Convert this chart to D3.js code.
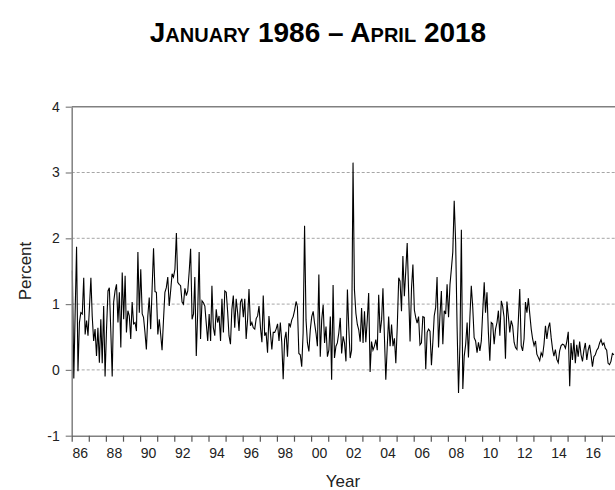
<!DOCTYPE html>
<html>
<head>
<meta charset="utf-8">
<script src="https://cdn.jsdelivr.net/npm/d3@7"></script>
<style>
  body { margin: 0; background: #fff; }
  svg { display: block; font-family: "Liberation Sans", Arial, sans-serif; }
</style>
</head>
<body>
<div id="chart"></div>
<script>
// monthly values in percent, one array per stretch of months
const rate1986 = [1.51, -0.13, 0.85, 1.87, -0.02, 0.72, 0.87, 0.85, 1.40, 0.54, 0.75, 0.52, 0.95, 1.40, 0.82, 0.44, 0.62, 0.21, 0.64, 0.11,
  0.77, 0.10, 0.97, -0.10, 0.62, 1.20, 1.25, 0.60, -0.10, 1.03, 1.20, 1.30, 0.72, 1.18, 0.34, 1.48, 0.77, 1.43, 0.57, 0.90,
  0.82, 0.47, 1.03, 0.70, 0.72, 0.59, 1.79];               // Jan 1986 - Nov 1989
const rate1989 = [0.87, 1.53, 0.85, 0.80, 0.57, 0.31, 0.82, 1.10, 0.62, 1.25, 1.85, 1.19, 1.18, 0.54, 0.77, 0.55, 0.30, 0.75, 1.18, 1.25,
  1.41, 0.97, 1.20, 1.46, 1.41, 1.53, 2.08, 1.33, 1.30, 1.28, 1.03, 1.00, 1.24, 1.13, 1.20, 1.50, 1.84, 0.77, 0.85, 1.41,
  0.21, 0.87, 1.79, 0.47, 1.05, 1.02, 0.97, 0.70, 0.44, 0.85, 0.44, 1.28];   // Dec 1989 - Mar 1994
const rate1994 = [0.64, 0.52, 0.92, 0.72, 0.82, 0.44, 1.08, 0.57, 1.20, 1.18, 0.87, 0.52, 0.39, 0.92, 1.13, 0.64, 1.08, 0.87, 0.59, 1.03,
  1.08, 0.80, 1.08, 0.47, 0.77, 1.23, 0.67, 0.72, 0.64, 0.62, 0.78, 0.82, 0.97, 0.64, 0.42, 1.13, 0.52, 0.57, 0.26, 0.82,
  0.57, 0.31, 0.57, 0.57, 0.62, 0.70, 0.44, 0.72, 0.42, -0.14];             // Apr 1994 - May 1998
const rate1998 = [0.46, 0.58, 0.20, 0.71, 0.66, 0.76, 0.81, 0.91, 1.04, 0.96, 0.25, 0.23, 0.05, 0.56, 2.19, 0.76, 0.41, 0.28, 0.61, 0.81,
  0.89, 0.71, 0.56, 0.36, 1.45, 0.20, 0.76, 0.99, 0.41, 0.66, 0.20, 0.30, 0.81, -0.15, 1.29, 0.18, 0.36, 0.41, 0.56, 0.79,
  0.25, 0.51, 0.41, 0.13, 1.22, 0.66, 0.18, 0.30, 3.15];                    // Jun 1998 - Jun 2002
const rate2002 = [1.22, 0.86, 0.69, 0.61, 0.43, 0.94, 0.41, 0.89, 0.42, 0.76, 1.17, -0.03, 0.43, 0.30, 0.36, 0.46, 0.30, 1.14, 0.56, 0.76,
  1.24, 0.51, -0.15, 0.36, 0.81, 0.36, 0.69, 0.36, 0.48, 0.10, 0.66, 1.40, 1.35, 0.89, 1.73, 1.12, 1.50, 1.93, 1.17, 0.43,
  1.24, 1.60, 0.91, 0.79, 0.71, 0.81, 0.38, 0.41, 0.81];                    // Jul 2002 - Jul 2006
const rate2006 = [0.80, 0.01, 0.57, 0.62, 0.59, 0.07, 0.44, 0.82, 0.95, 1.41, 0.34, 0.82, 1.20, 0.39, 0.90, 0.85, 1.30, 0.80, 1.30, 1.53,
  1.79, 2.57, 1.94, 0.67, -0.35, 0.39, 2.13, -0.29, 0.21, 0.39, 0.72, 0.19, 0.80, 1.28, 0.95, 0.49, 0.44, 0.26, 0.42, 0.29,
  0.44, 0.90, 1.33, 0.87, 1.18, 0.57, 0.14, 0.72, 0.70];                    // Aug 2006 - Aug 2010
const rate2010 = [0.39, 0.62, 0.72, 0.90, 0.52, 1.05, 0.97, 0.80, 0.17, 1.04, 0.82, 0.57, 0.75, 0.67, 0.42, 0.34, 0.31, 0.77, 1.23, 0.37,
  0.29, 0.47, 1.03, 0.87, 1.09, 0.85, 0.62, 0.47, 0.37, 0.44, 0.24, 0.19, 0.14, 0.26, 0.21, 0.39, 0.67, 0.47, 0.64, 0.72,
  0.49, 0.31, 0.21, 0.31, 0.16, 0.11, 0.29, 0.37, 0.39];                    // Sep 2010 - Sep 2014
const rate2014 = [0.38, 0.33, 0.43, 0.58, -0.25, 0.41, 0.15, 0.46, 0.10, 0.38, 0.20, 0.43, 0.23, 0.13, 0.30, 0.41, 0.15, 0.30, 0.38, 0.23,
  0.05, 0.20, 0.23, 0.30, 0.33, 0.41, 0.46, 0.38, 0.41, 0.33, 0.30, 0.10, 0.08, 0.13, 0.25, 0.23];  // Oct 2014 - Sep 2017

const yTicks = [-1, 0, 1, 2, 3, 4];
const gridValues = [0, 1, 2, 3];
const yearLabels = ["86", "88", "90", "92", "94", "96", "98", "00", "02", "04", "06", "08", "10", "12", "14", "16"];

const width = 615, height = 490;
const plotLeft = 71.7, plotTop = 106.7, plotBottom = 435.7;
const pxPerYear = 17.1;

const values = [].concat(rate1986, rate1989, rate1994, rate1998, rate2002, rate2006, rate2010, rate2014);
const data = values.map((v, i) => ({ date: new Date(1986, i, 15), value: v }));

const svg = d3.select("#chart")
  .append("svg")
  .attr("width", width)
  .attr("height", height);

// scales
const x = d3.scaleTime()
  .domain([new Date(1986, 0, 1), new Date(2019, 0, 1)])
  .range([plotLeft, plotLeft + 33 * pxPerYear]);

const y = d3.scaleLinear()
  .domain([-1, 4])
  .range([plotBottom, plotTop]);

// dashed grid lines
svg.append("g")
  .selectAll("line")
  .data(gridValues)
  .join("line")
  .attr("x1", plotLeft)
  .attr("x2", x.range()[1])
  .attr("y1", d => y(d))
  .attr("y2", d => y(d))
  .attr("stroke", "#a6a6a6")
  .attr("stroke-width", 1)
  .attr("stroke-dasharray", "3,2");

// top border
svg.append("line")
  .attr("x1", plotLeft)
  .attr("x2", x.range()[1])
  .attr("y1", y(4))
  .attr("y2", y(4))
  .attr("stroke", "#808080")
  .attr("stroke-width", 1.5);

// the series
const line = d3.line()
  .x(d => x(d.date))
  .y(d => y(d.value));

svg.append("path")
  .datum(data)
  .attr("fill", "none")
  .attr("stroke", "#000")
  .attr("stroke-width", 1.1)
  .attr("d", line);

// y axis (plain hyphen for negatives, like the original)
const yAxis = svg.append("g")
  .attr("transform", `translate(${plotLeft},0)`)
  .call(d3.axisLeft(y).tickValues(yTicks).tickFormat(d => String(d)).tickSize(6).tickSizeOuter(0).tickPadding(6));
yAxis.select(".domain").attr("stroke", "#808080").attr("stroke-width", 1.5);
yAxis.selectAll(".tick line").attr("stroke", "#808080").attr("stroke-width", 1.2);
yAxis.selectAll(".tick text").attr("font-size", 14).attr("fill", "#222")
  .attr("font-family", "Liberation Sans, Arial, sans-serif");

// x axis: a tick at the start of every year
const xAxis = svg.append("g")
  .attr("transform", `translate(0,${plotBottom})`)
  .call(d3.axisBottom(x).ticks(d3.timeYear.every(1)).tickFormat("").tickSize(6).tickSizeOuter(0));
xAxis.select(".domain").attr("stroke", "#808080").attr("stroke-width", 1.5);
xAxis.selectAll(".tick line").attr("stroke", "#555").attr("stroke-width", 1.2);

// year labels centred inside their year
svg.append("g")
  .selectAll("text")
  .data(yearLabels)
  .join("text")
  .attr("x", d => {
    const yr = +d < 50 ? 2000 + +d : 1900 + +d;
    return x(new Date(yr, 6, 1));
  })
  .attr("y", 458)
  .attr("text-anchor", "middle")
  .attr("font-size", 14)
  .attr("fill", "#222")
  .text(d => d);

// axis titles
svg.append("text")
  .attr("transform", "translate(31,271) rotate(-90)")
  .attr("text-anchor", "middle")
  .attr("font-size", 17)
  .attr("fill", "#222")
  .text("Percent");

svg.append("text")
  .attr("x", 343)
  .attr("y", 487)
  .attr("text-anchor", "middle")
  .attr("font-size", 17)
  .attr("fill", "#222")
  .text("Year");

// title
svg.append("text")
  .attr("x", 318)
  .attr("y", 42)
  .attr("text-anchor", "middle")
  .attr("font-size", 28)
  .attr("font-weight", "bold")
  .style("font-variant", "small-caps")
  .attr("fill", "#000")
  .text("January 1986 – April 2018");
</script>
</body>
</html>
